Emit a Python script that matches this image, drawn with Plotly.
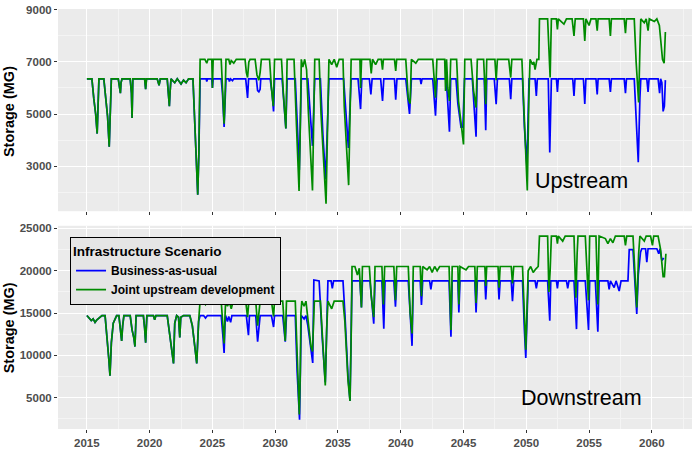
import plotly.graph_objects as go

# ---------------- DATA (decimal years, storage in MG) ----------------
# Upstream: shared path (both scenarios identical before 2024)
up_base_t = [2015.00, 2015.40, 2015.55, 2015.70, 2015.82, 2015.90, 2015.96, 2016.35, 2016.50, 2016.65,
             2016.78, 2016.88, 2016.95, 2017.50, 2017.60, 2017.67, 2017.72, 2017.80, 2018.45, 2018.55,
             2018.60, 2018.66, 2019.60, 2019.68, 2019.75, 2020.60, 2020.75, 2020.85, 2021.40, 2021.50,
             2021.57, 2021.62, 2021.70, 2022.00, 2022.20, 2022.50, 2022.70, 2022.90, 2023.10, 2023.45,
             2023.60, 2023.75, 2023.83, 2023.92]
up_base_v = [6350, 6350, 5600, 5000, 4250, 5200, 6350, 6350, 5500, 4900,
             3750, 5000, 6350, 6350, 5950, 5800, 6200, 6350, 6350, 5800,
             4850, 6350, 6350, 5950, 6350, 6350, 6100, 6350, 6350, 5700,
             5300, 5800, 6350, 6200, 6350, 6150, 6300, 6200, 6350, 6350,
             4500, 2700, 1900, 3500]

up_bau_t = [2024.02, 2024.50, 2024.55, 2024.62, 2024.95, 2025.00, 2025.06, 2025.70, 2025.80, 2025.93,
            2026.00, 2026.08, 2026.30, 2026.35, 2026.45, 2026.60, 2026.70, 2027.65, 2027.80, 2027.88,
            2028.50, 2028.60, 2028.70, 2028.80, 2028.85, 2029.60, 2029.75, 2029.87, 2029.95, 2030.55,
            2030.85, 2030.95, 2031.60, 2031.75, 2031.92, 2032.00, 2032.08, 2032.60, 2032.80, 2032.97,
            2033.07, 2033.15, 2033.60, 2033.80, 2034.02, 2034.20, 2034.28, 2035.45, 2035.60, 2035.83,
            2035.95, 2036.05, 2036.60, 2036.80, 2036.90, 2037.50, 2037.62, 2037.72, 2038.40, 2038.55,
            2038.65, 2039.50, 2039.60, 2039.70, 2040.40, 2040.55, 2040.70, 2040.85, 2041.55, 2041.62,
            2041.70, 2042.55, 2042.77, 2042.90, 2043.60, 2043.70, 2043.88, 2043.98, 2044.40, 2044.55,
            2044.80, 2044.95, 2045.08, 2045.70, 2045.85, 2046.00, 2046.08, 2046.65, 2046.77, 2046.85,
            2047.45, 2047.60, 2047.70, 2048.65, 2048.76, 2048.85, 2049.70, 2049.85, 2050.05, 2050.15,
            2050.22, 2050.70, 2050.80, 2050.88, 2051.75, 2051.87, 2051.95, 2052.00, 2052.40, 2052.48,
            2052.55, 2053.70, 2053.80, 2053.88, 2054.55, 2054.66, 2054.75, 2055.55, 2055.65, 2055.72,
            2056.60, 2056.70, 2056.78, 2057.80, 2057.90, 2057.98, 2058.60, 2058.80, 2058.92, 2059.05,
            2059.12, 2059.60, 2059.70, 2059.78, 2060.50, 2060.62, 2060.70, 2060.80, 2060.90, 2061.00,
            2061.08]
up_bau_v = [6350, 6350, 6250, 6350, 6350, 6000, 6350, 6350, 5800, 4500,
            5400, 6350, 6350, 6250, 6350, 6280, 6350, 6350, 5620, 6350,
            6350, 5900, 5850, 5950, 6350, 6350, 5800, 5100, 6350, 6350,
            4450, 6350, 6350, 4500, 2850, 4600, 6350, 6350, 5000, 3780,
            5200, 6350, 6350, 4200, 2500, 5000, 6350, 6350, 5200, 3700,
            5200, 6350, 6350, 5190, 6350, 6350, 5750, 6350, 6350, 5500,
            6350, 6350, 5550, 6350, 6350, 5600, 5000, 6350, 6350, 6150,
            6350, 6350, 4940, 6350, 6350, 5800, 4320, 6350, 6350, 5400,
            4500, 4500, 6350, 6350, 5000, 4130, 6350, 6350, 4380, 6350,
            6350, 5380, 6350, 6350, 5570, 6350, 6350, 4500, 3000, 4500,
            6350, 6350, 5690, 6350, 6350, 3520, 5800, 6350, 6350, 5850,
            6350, 6350, 5690, 6350, 6350, 5390, 6350, 6350, 5750, 6350,
            6350, 5850, 6350, 6350, 5800, 6350, 6350, 4500, 3150, 5600,
            6350, 6350, 5850, 6350, 6350, 5800, 6350, 6200, 5100, 5300,
            6300]

up_joint_t = [2024.02, 2024.40, 2024.55, 2024.65, 2024.95, 2025.00, 2025.06, 2025.70, 2025.80, 2025.93,
              2026.00, 2026.08, 2026.30, 2026.40, 2026.50, 2026.70, 2026.90, 2027.60, 2027.70, 2027.80,
              2027.90, 2028.00, 2028.40, 2028.55, 2028.70, 2028.80, 2028.90, 2029.55, 2029.70, 2029.85,
              2029.95, 2030.50, 2030.65, 2030.85, 2030.95, 2031.50, 2031.70, 2031.90, 2032.00, 2032.08,
              2032.20, 2032.35, 2032.50, 2032.65, 2032.97, 2033.07, 2033.15, 2033.50, 2033.65, 2034.05,
              2034.20, 2034.28, 2034.50, 2034.70, 2034.90, 2035.10, 2035.40, 2035.50, 2035.85, 2035.95,
              2036.05, 2036.75, 2036.80, 2036.88, 2037.55, 2037.65, 2037.75, 2038.00, 2038.20, 2038.45,
              2038.55, 2038.62, 2039.50, 2039.60, 2039.68, 2040.40, 2040.60, 2040.75, 2040.85, 2041.20,
              2041.40, 2042.55, 2042.70, 2042.77, 2042.88, 2043.50, 2043.57, 2043.65, 2043.75, 2043.88,
              2043.98, 2044.45, 2044.60, 2045.00, 2045.10, 2045.60, 2045.80, 2046.00, 2046.10, 2046.60,
              2046.77, 2046.85, 2047.50, 2047.60, 2047.70, 2048.60, 2048.76, 2048.85, 2049.65, 2049.85,
              2050.08, 2050.20, 2050.30, 2050.50, 2050.60, 2050.70, 2050.85, 2051.00, 2051.05, 2051.70,
              2051.80, 2051.90, 2052.00, 2052.40, 2052.48, 2052.55, 2053.00, 2053.20, 2053.65, 2053.80,
              2053.90, 2054.55, 2054.66, 2054.75, 2055.00, 2055.15, 2055.55, 2055.65, 2055.72, 2056.60,
              2056.70, 2056.78, 2057.80, 2057.90, 2057.98, 2058.60, 2058.75, 2058.95, 2059.05, 2059.12,
              2059.40, 2059.55, 2059.70, 2059.80, 2060.20, 2060.40, 2060.60, 2060.85, 2060.98, 2061.08]
up_joint_v = [7100, 7100, 6950, 7100, 7100, 6000, 7100, 7100, 6000, 4630,
              5500, 7100, 7100, 6900, 7050, 6950, 7100, 7100, 6600, 6400,
              7000, 7100, 7100, 6500, 6300, 6600, 7100, 7100, 6000, 5300,
              7100, 7100, 5800, 4450, 7100, 7100, 4500, 2050, 4500, 7100,
              6800, 7100, 6700, 5000, 2070, 5000, 7100, 7100, 5000, 1560,
              5000, 7100, 6900, 7100, 6800, 7100, 7100, 5300, 2270, 5000,
              7100, 7100, 6000, 7100, 7100, 6560, 7100, 6900, 7100, 7100,
              6700, 7100, 7100, 6650, 7100, 7100, 5600, 5400, 7100, 6950,
              7100, 7100, 6000, 5630, 7100, 7100, 5880, 7100, 6000, 5500,
              7100, 7100, 5500, 3830, 7100, 7100, 5900, 5250, 7100, 7100,
              5380, 7100, 7100, 6300, 7100, 7100, 6400, 7100, 7100, 5000,
              2070, 5500, 7100, 6900, 7000, 6700, 7100, 7100, 8650, 8650,
              7500, 6400, 8650, 8650, 8250, 8650, 8450, 8650, 8650, 8000,
              8650, 8650, 7800, 8650, 8400, 8650, 8650, 8200, 8650, 8650,
              8000, 8650, 8650, 8100, 8650, 8650, 7000, 5440, 7500, 8650,
              8500, 8650, 8200, 8650, 8550, 8650, 8400, 7100, 6950, 8150]

# Downstream: shared path before 2024
dn_base_t = [2015.00, 2015.20, 2015.35, 2015.50, 2015.65, 2015.80, 2016.00, 2016.20, 2016.45, 2016.60,
             2016.75, 2016.84, 2016.95, 2017.10, 2017.37, 2017.55, 2017.65, 2017.77, 2017.85, 2017.95,
             2018.45, 2018.60, 2018.75, 2018.83, 2018.92, 2019.50, 2019.60, 2019.68, 2019.78, 2020.30,
             2020.40, 2020.50, 2021.40, 2021.60, 2021.80, 2021.90, 2022.00, 2022.15, 2022.30, 2022.40,
             2022.48, 2022.70, 2023.20, 2023.40, 2023.60, 2023.75, 2023.90]
dn_base_v = [14700, 14400, 14100, 14300, 13900, 14200, 14500, 14700, 14700, 12500,
             9500, 7600, 11500, 13800, 14700, 14700, 13000, 11700, 13500, 14700,
             14700, 13000, 12000, 11040, 14700, 14700, 13200, 11500, 14700, 14700,
             14200, 14700, 14700, 12500, 10500, 9050, 13800, 14700, 14500, 12100,
             14500, 14700, 14700, 13500, 11000, 9050, 14000]

dn_bau_t = [2024.02, 2024.30, 2024.45, 2024.60, 2025.70, 2025.85, 2025.93, 2026.00, 2026.05, 2026.20,
            2026.30, 2026.45, 2026.55, 2027.70, 2027.87, 2027.95, 2028.45, 2028.60, 2028.70, 2028.80,
            2029.70, 2029.87, 2029.95, 2030.60, 2030.80, 2030.90, 2031.60, 2031.75, 2031.94, 2032.02,
            2032.08, 2032.30, 2032.45, 2032.60, 2032.85, 2032.99, 2033.08, 2033.50, 2033.75, 2033.99,
            2034.12, 2034.20, 2034.45, 2034.55, 2034.65, 2035.40, 2035.55, 2035.80, 2035.96, 2036.05,
            2036.12, 2036.75, 2036.87, 2036.95, 2037.55, 2037.85, 2037.95, 2038.50, 2038.65, 2038.75,
            2039.45, 2039.58, 2039.68, 2040.60, 2040.90, 2041.00, 2041.55, 2041.65, 2041.75, 2042.30,
            2042.40, 2042.50, 2043.85, 2044.00, 2044.10, 2044.55, 2044.63, 2044.72, 2045.90, 2046.00,
            2046.10, 2046.70, 2046.77, 2046.85, 2047.75, 2047.83, 2047.92, 2048.80, 2048.90, 2049.00,
            2049.70, 2049.85, 2049.96, 2050.05, 2050.15, 2050.70, 2050.80, 2050.90, 2051.70, 2051.87,
            2051.95, 2052.40, 2052.48, 2052.55, 2053.20, 2053.30, 2053.40, 2053.80, 2054.00, 2054.10,
            2054.70, 2054.96, 2055.05, 2055.50, 2055.70, 2055.80, 2056.50, 2056.60, 2056.70, 2057.00,
            2057.15, 2057.40, 2057.55, 2058.10, 2058.20, 2058.50, 2058.65, 2058.80, 2058.92, 2059.10,
            2059.20, 2059.50, 2059.60, 2059.70, 2060.40, 2060.55, 2060.65, 2060.80, 2060.95]
dn_bau_v = [14700, 14700, 14400, 14700, 14700, 12000, 10270, 13500, 14700, 14000,
            14600, 13900, 14700, 14700, 12390, 14700, 14700, 11620, 13500, 14700,
            14700, 13350, 14700, 14700, 11620, 14700, 14700, 8000, 2400, 8000,
            14700, 14300, 14700, 13500, 10500, 9100, 18900, 18800, 12000, 6820,
            14000, 18800, 18800, 17900, 18800, 18800, 15000, 7500, 4600, 12000,
            18800, 18800, 15650, 18800, 18800, 13730, 18800, 18800, 13150, 18800,
            18800, 15760, 18800, 18800, 11120, 18800, 18800, 15960, 18800, 18800,
            17800, 18800, 18800, 12200, 18800, 18800, 15070, 18800, 18800, 15070,
            18800, 18800, 16600, 18800, 18800, 16600, 18800, 18800, 16400, 18800,
            18800, 13000, 9700, 14000, 18800, 18800, 17900, 18800, 18800, 14100,
            18800, 18800, 17900, 18800, 18800, 17900, 18800, 18800, 13100, 18800,
            18800, 13000, 18800, 18800, 12800, 18800, 18800, 17800, 18800, 18000,
            18800, 17600, 18800, 18800, 22500, 22500, 18000, 14900, 19500, 22200,
            22600, 22600, 21000, 22600, 22600, 22000, 22600, 21200, 21500]

dn_joint_t = [2024.02, 2024.30, 2024.45, 2024.60, 2024.80, 2025.00, 2025.10, 2025.70, 2025.85, 2025.93,
              2026.00, 2026.05, 2026.20, 2026.35, 2026.50, 2026.65, 2027.65, 2027.80, 2027.90, 2028.45,
              2028.60, 2028.70, 2028.80, 2029.70, 2029.87, 2029.95, 2030.60, 2030.80, 2030.90, 2031.60,
              2031.75, 2031.92, 2032.00, 2032.05, 2032.12, 2032.30, 2032.45, 2032.60, 2032.85, 2032.97,
              2033.05, 2033.12, 2033.60, 2033.75, 2033.99, 2034.10, 2034.20, 2034.50, 2034.70, 2035.40,
              2035.55, 2035.80, 2035.96, 2036.05, 2036.12, 2036.35, 2036.55, 2036.70, 2036.87, 2036.95,
              2037.50, 2037.65, 2037.85, 2037.95, 2038.50, 2038.62, 2038.72, 2039.45, 2039.58, 2039.68,
              2040.60, 2040.75, 2040.90, 2041.00, 2041.55, 2041.65, 2041.75, 2042.10, 2042.30, 2042.50,
              2042.70, 2042.90, 2043.10, 2043.85, 2044.00, 2044.10, 2044.55, 2044.63, 2044.72, 2045.20,
              2045.40, 2045.90, 2046.00, 2046.10, 2046.70, 2046.77, 2046.85, 2047.75, 2047.83, 2047.92,
              2048.80, 2048.90, 2049.00, 2049.70, 2049.85, 2049.96, 2050.05, 2050.15, 2050.35, 2050.55,
              2050.75, 2050.95, 2051.05, 2051.70, 2051.80, 2051.90, 2052.00, 2052.40, 2052.48, 2052.55,
              2052.90, 2053.10, 2053.80, 2053.95, 2054.05, 2054.12, 2054.70, 2054.95, 2055.05, 2055.55,
              2055.70, 2055.80, 2056.30, 2056.50, 2056.70, 2056.90, 2057.10, 2057.80, 2057.90, 2058.00,
              2058.50, 2058.70, 2058.80, 2058.95, 2059.05, 2059.40, 2059.55, 2059.90, 2060.05, 2060.15,
              2060.50, 2060.70, 2060.90, 2061.00, 2061.12]
dn_joint_v = [16500, 16400, 16000, 16300, 16400, 16100, 16400, 16400, 13500, 11400,
              14500, 16400, 15800, 16300, 15500, 16400, 16400, 14500, 16400, 16400,
              13500, 15000, 16400, 16400, 14600, 16400, 16400, 11700, 16400, 16400,
              9000, 3000, 8000, 15000, 16400, 15800, 16400, 14500, 11000, 10450,
              15000, 16400, 16400, 12000, 6450, 13000, 16400, 15500, 16400, 16400,
              14000, 7000, 4600, 12000, 20500, 20500, 19500, 20300, 15650, 20500,
              20500, 17000, 14500, 20500, 20500, 16000, 20500, 20500, 16500, 20500,
              20500, 15000, 12580, 20500, 20500, 17000, 20500, 20100, 20500, 19800,
              20500, 20000, 20500, 20500, 13000, 20500, 20500, 16000, 20500, 20100,
              20500, 20500, 16200, 20500, 20500, 18200, 20500, 20500, 18000, 20500,
              20500, 18500, 20500, 20500, 14000, 10660, 15000, 20000, 20500, 19800,
              20200, 20500, 24100, 24100, 17500, 20000, 24100, 24100, 23200, 24100,
              23500, 24100, 24100, 16800, 22000, 24100, 24100, 16500, 24100, 24100,
              16000, 24100, 23800, 23200, 23800, 23300, 24100, 24100, 23000, 24100,
              24100, 19000, 15650, 22000, 24100, 23500, 24100, 24100, 23000, 24100,
              24100, 22500, 19300, 19300, 22000]

x_ticks = [2015, 2020, 2025, 2030, 2035, 2040, 2045, 2050, 2055, 2060]
up_ticks = [3000, 5000, 7000, 9000]
dn_ticks = [5000, 10000, 15000, 20000, 25000]

scenario_names = ["Business-as-usual", "Joint upstream development"]
scenario_colors = ["#0000FF", "#008B00"]

# ---------------- FIGURE ----------------
FONT = "Liberation Sans, Arial, sans-serif"
LW = 1.7

fig = go.Figure()
fig.add_trace(go.Scatter(x=up_base_t + up_bau_t, y=up_base_v + up_bau_v, mode="lines",
                         line=dict(color=scenario_colors[0], width=LW),
                         name=scenario_names[0], showlegend=False, xaxis="x", yaxis="y"))
fig.add_trace(go.Scatter(x=up_base_t + up_joint_t, y=up_base_v + up_joint_v, mode="lines",
                         line=dict(color=scenario_colors[1], width=LW),
                         name=scenario_names[1], showlegend=False, xaxis="x", yaxis="y"))
fig.add_trace(go.Scatter(x=dn_base_t + dn_bau_t, y=dn_base_v + dn_bau_v, mode="lines",
                         line=dict(color=scenario_colors[0], width=LW),
                         name=scenario_names[0], xaxis="x2", yaxis="y2"))
fig.add_trace(go.Scatter(x=dn_base_t + dn_joint_t, y=dn_base_v + dn_joint_v, mode="lines",
                         line=dict(color=scenario_colors[1], width=LW),
                         name=scenario_names[1], xaxis="x2", yaxis="y2"))

tickfont = dict(family=FONT, size=11.5, color="#4D4D4D", weight="bold")
grid_major = "#FFFFFF"
grid_minor = "#F4F4F4"

def xaxis_common(show_labels):
    return dict(range=[2012.7, 2063.2], tickmode="array", tickvals=x_ticks,
                ticktext=[str(v) for v in x_ticks],
                showticklabels=show_labels, ticks="outside", ticklen=3, tickcolor="#333333",
                tickwidth=1, showgrid=True, gridcolor=grid_major, gridwidth=1.1,
                minor=dict(tickmode="array", tickvals=[2012.5 + 5 * i for i in range(11)],
                           showgrid=True, gridcolor=grid_minor, gridwidth=0.6, ticks=""),
                zeroline=False, showline=False, tickfont=tickfont)

def yaxis_common(rng, ticks, minor_vals):
    return dict(range=rng, tickmode="array", tickvals=ticks, ticktext=[str(v) for v in ticks],
                ticks="outside", ticklen=3,
                tickcolor="#333333", tickwidth=1, showgrid=True, gridcolor=grid_major, gridwidth=1.1,
                minor=dict(tickmode="array", tickvals=minor_vals, showgrid=True,
                           gridcolor=grid_minor, gridwidth=0.6, ticks=""),
                zeroline=False, showline=False, tickfont=tickfont)

fig.update_layout(
    width=696, height=453,
    margin=dict(l=58, r=4, t=5, b=16),
    paper_bgcolor="white", plot_bgcolor="#EBEBEB",
    xaxis=dict(domain=[0, 1], anchor="y", **xaxis_common(False)),
    yaxis=dict(domain=[0.5185, 1], anchor="x", **yaxis_common([1270, 9030], up_ticks, [2000, 4000, 6000, 8000])),
    xaxis2=dict(domain=[0, 1], anchor="y2", **xaxis_common(True)),
    yaxis2=dict(domain=[0, 0.4838], anchor="x2",
                **yaxis_common([1290, 25310], dn_ticks, [2500, 7500, 12500, 17500, 22500])),
    legend=dict(x=0.019, y=0.456, xanchor="left", yanchor="top",
                bgcolor="#E5E5E5", bordercolor="#000000", borderwidth=1,
                title=dict(text="Infrastructure Scenario", font=dict(family=FONT, size=13.5, color="black", weight="bold")),
                font=dict(family=FONT, size=12, color="black", weight="bold"),
                tracegroupgap=0, itemwidth=30),
    showlegend=True,
)

fig.add_annotation(text="Storage (MG)", xref="paper", yref="paper", x=-0.0773, y=0.757,
                   textangle=-90, showarrow=False, xanchor="center", yanchor="middle",
                   font=dict(family=FONT, size=14.5, color="black", weight="bold"))
fig.add_annotation(text="Storage (MG)", xref="paper", yref="paper", x=-0.0773, y=0.242,
                   textangle=-90, showarrow=False, xanchor="center", yanchor="middle",
                   font=dict(family=FONT, size=14.5, color="black", weight="bold"))
fig.add_annotation(text="Upstream", xref="paper", yref="paper", x=0.825, y=0.590,
                   showarrow=False, xanchor="center", yanchor="middle",
                   font=dict(family=FONT, size=21.5, color="black"))
fig.add_annotation(text="Downstream", xref="paper", yref="paper", x=0.826, y=0.074,
                   showarrow=False, xanchor="center", yanchor="middle",
                   font=dict(family=FONT, size=21.5, color="black"))

fig.write_html("out.html")
